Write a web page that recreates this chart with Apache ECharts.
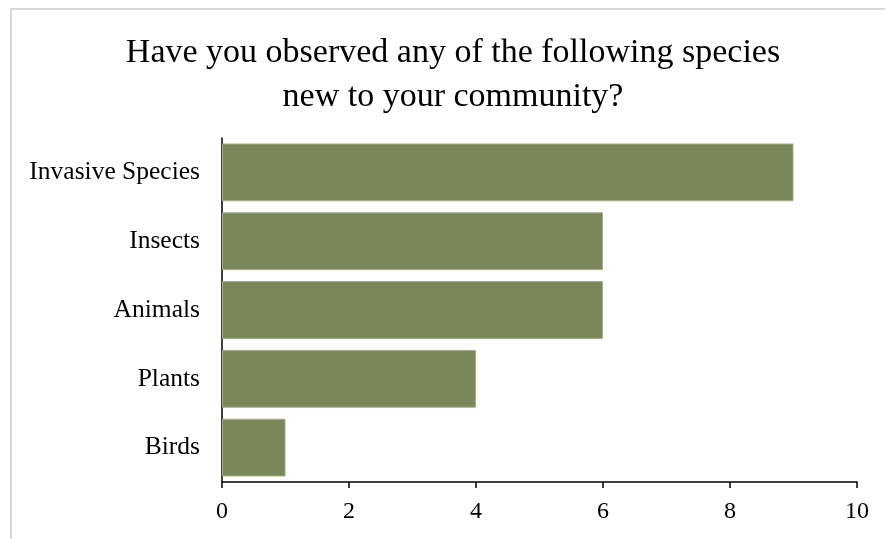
<!DOCTYPE html>
<html>
<head>
<meta charset="utf-8">
<script src="https://cdn.jsdelivr.net/npm/echarts@6/dist/echarts.min.js"></script>
<style>
  html, body { margin: 0; padding: 0; background: #fff; }
  #chart { width: 885px; height: 539px; }
</style>
</head>
<body>
<div id="chart"></div>
<script>
// Survey responses: species newly observed in the community
const categories = ['Birds', 'Plants', 'Animals', 'Insects', 'Invasive Species'];
const counts = [1, 4, 6, 6, 9];
const xTicks = [0, 2, 4, 6, 8, 10];
const titleLines = ['Have you observed any of the following species', 'new to your community?'];

const serif = '"Liberation Serif", "Times New Roman", serif';
const barColor = '#7a8759';

const chart = echarts.init(document.getElementById('chart'), null, { renderer: 'canvas' });

chart.setOption({
  backgroundColor: '#ffffff',
  animation: false,
  title: {
    text: titleLines.join('\n'),
    left: 448,
    top: 26,
    textAlign: 'center',
    textStyle: {
      fontFamily: serif,
      fontSize: 34,
      fontWeight: 'normal',
      color: '#000',
      lineHeight: 44
    }
  },
  graphic: [{
    type: 'rect',
    shape: { x: 11, y: 9, width: 900, height: 600 },
    style: { fill: 'none', stroke: '#d9d9d9', lineWidth: 2 },
    silent: true,
    z: -1
  }],
  grid: { left: 222, right: 28, top: 138, bottom: 57, containLabel: false },
  xAxis: {
    type: 'value',
    min: xTicks[0],
    max: xTicks[xTicks.length - 1],
    interval: xTicks[1] - xTicks[0],
    axisLine: { show: true, lineStyle: { color: '#000', width: 1.5 } },
    axisTick: { show: true, length: 6, lineStyle: { color: '#000', width: 1.5 } },
    splitLine: { show: false },
    axisLabel: { fontFamily: serif, fontSize: 24, color: '#000', margin: 18 }
  },
  yAxis: {
    type: 'category',
    data: categories,
    axisLine: { show: true, lineStyle: { color: '#000', width: 1.5 } },
    axisTick: { show: false },
    axisLabel: { fontFamily: serif, fontSize: 25.5, color: '#000', margin: 22 }
  },
  series: [{
    type: 'bar',
    data: counts,
    barCategoryGap: '16%',
    itemStyle: { color: barColor, borderColor: '#a3ad86', borderWidth: 1 }
  }]
});
</script>
</body>
</html>
